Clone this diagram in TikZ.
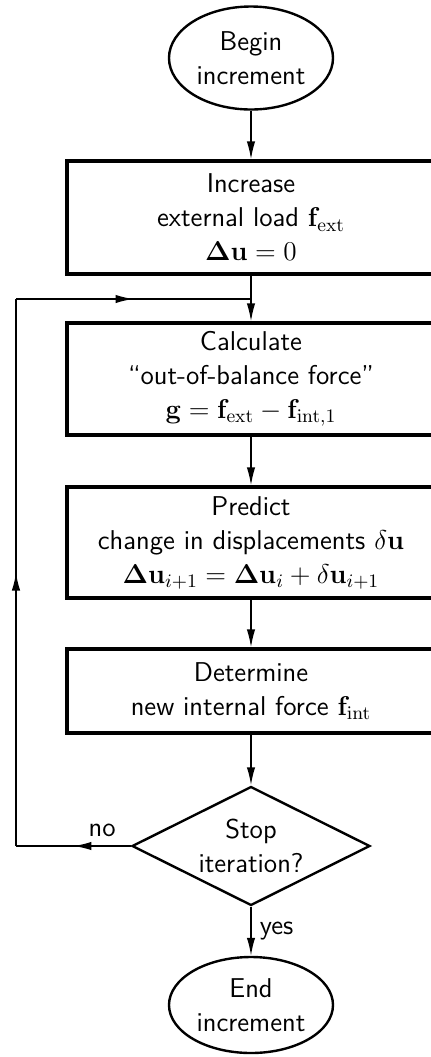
\RequirePackage{fix-cm}
\documentclass[tikz,border=0pt]{standalone}
\usetikzlibrary{shapes.geometric,arrows.meta,decorations.markings}
\begin{document}
\begin{tikzpicture}[x=0.5pt,y=-0.5pt,
  every node/.style={font=\sffamily\fontsize{13.6}{17}\selectfont, align=center},
  term/.style={draw, ellipse, line width=1.2pt, inner sep=0pt, minimum width=82pt, minimum height=51.5pt},
  procbox/.style={draw, rectangle, line width=1.6pt, inner sep=0pt, minimum width=184pt},
  decide/.style={draw, diamond, aspect=2, line width=1.2pt, inner sep=0pt, minimum width=119pt, minimum height=59.5pt},
  tip/.style={-{Latex[length=9pt,width=4.2pt]}},
  conn/.style={line width=0.8pt, tip},
  midconn/.style={line width=0.8pt, decoration={markings, mark=at position 0.5 with {\arrow{Latex[length=9pt,width=4.2pt]}}}, postaction={decorate}},
  lbl/.style={font=\sffamily\fontsize{13.6}{16}\selectfont}
]
\useasboundingbox (0,0) rectangle (430,1057);

\node[term] (begin) at (251,58) {Begin\\increment};
\node[procbox, minimum height=56.5pt] (inc) at (251,217.5) {Increase\\external load $\mathbf{f}_{\mathrm{ext}}$\\$\mathbf{\Delta u}=0$};
\node[procbox, minimum height=56pt] (calc) at (251,379) {Calculate\\``out-of-balance force''\\$\mathbf{g}=\mathbf{f}_{\mathrm{ext}}-\mathbf{f}_{\mathrm{int},1}$};
\node[procbox, minimum height=55.5pt] (pred) at (251,542.5) {Predict\\change in displacements $\delta\mathbf{u}$\\$\mathbf{\Delta u}_{i+1}=\mathbf{\Delta u}_{i}+\delta\mathbf{u}_{i+1}$};
\node[procbox, minimum height=42pt] (det) at (251,691) {Determine\\new internal force $\mathbf{f}_{\mathrm{int}}$};
\node[decide] (stop) at (251,846) {Stop\\iteration?};
\node[term, minimum height=48pt] (end) at (251,1005) {End\\increment};

\coordinate (join) at (251,299);
\coordinate (fbL) at (16,846);
\coordinate (fbT) at (16,299);

\draw[conn] (begin) -- (inc);
\draw[conn] (inc) -- (calc);
\draw[conn] (calc) -- (pred);
\draw[conn] (pred) -- (det);
\draw[conn] (det) -- (stop);
\draw[conn] (stop) -- node[lbl, right, inner sep=4pt] {yes} (end);

\draw[midconn] (stop.west) -- node[lbl, pos=0.25, above, inner sep=4pt] {no} (fbL);
\draw[midconn] (fbL) -- (fbT);
\draw[midconn] (fbT) -- (join);
\end{tikzpicture}
\end{document}
